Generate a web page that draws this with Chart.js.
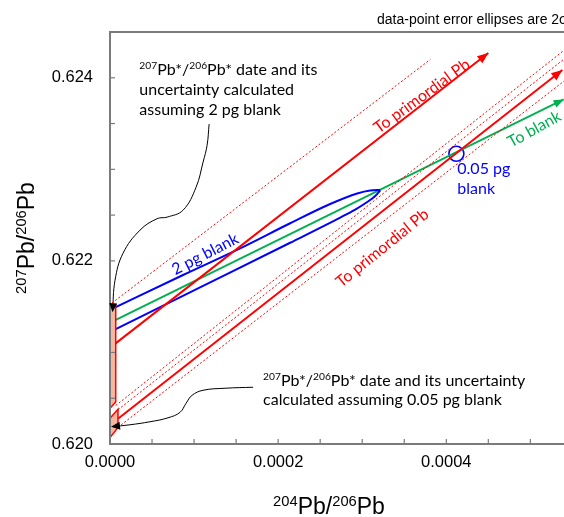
<!DOCTYPE html>
<html lang="en">
<head>
  <meta charset="UTF-8" />
  <title>207Pb/206Pb vs 204Pb/206Pb</title>
  <script src="https://cdn.jsdelivr.net/npm/chart.js"></script>
  <style>
    html, body { margin: 0; padding: 0; background: #fff; }
  </style>
</head>
<body>

<canvas id="grafico" width="564" height="517"></canvas>

<script>
  // axes
  const xMin = 0, xMax = 0.00054;
  const yMin = 0.620, yMax = 0.6245;
  const xTicks = [0, 0.00005, 0.0001, 0.00015, 0.0002, 0.00025, 0.0003, 0.00035, 0.0004, 0.00045, 0.0005];
  const xTickLabels = ['0.0000', '', '', '', '0.0002', '', '', '', '0.0004', '', ''];
  const yTicks = [0.6200, 0.6205, 0.6210, 0.6215, 0.6220, 0.6225, 0.6230, 0.6235, 0.6240, 0.6245];
  const yTickLabels = ['0.620', '', '', '', '0.622', '', '', '', '0.624', ''];

  // intercept boxes on the y axis (x, y)
  const box2pg = [[0, 0.62152], [0.0000068, 0.62152], [0.0000068, 0.62046], [0, 0.62039], [0, 0.62152]];
  const box005pg = [[0, 0.62007], [0, 0.62028], [0.0000095, 0.62038], [0.0000095, 0.62018], [0, 0.62007]];

  // lines towards primordial Pb, with their uncertainty envelopes
  const primUpper = [[0.000004, 0.62108], [0.00045, 0.62427]];
  const primUpperHi = [[0.0000024, 0.62154], [0.000381, 0.62420]];
  const primUpperLo = [[0.0000068, 0.62042], [0.00054, 0.62430]];
  const primLower = [[0.0000095, 0.620275], [0.000538, 0.624084]];
  const primLowerHi = [[0.0000095, 0.620374], [0.00054, 0.624204]];
  const primLowerLo = [[0.0000095, 0.620182], [0.00054, 0.623964]];

  // mixing line towards blank
  const toBlank = [[0.0000039, 0.621341], [0.00053964, 0.623764]];

  // 2 pg blank error envelope
  const ell2pgUpper = [[0.0000068, 0.621496], [0.0000869, 0.621846], [0.0001548, 0.622137], [0.0002143, 0.622411],
                       [0.0002619, 0.622621], [0.000294, 0.622736], [0.0003095, 0.622769], [0.0003214, 0.622774]];
  const ell2pgLower = [[0.0000008, 0.621227], [0.0001071, 0.62171], [0.0002143, 0.622198], [0.0002738, 0.622473],
                       [0.0002917, 0.622561], [0.000306, 0.622643], [0.0003155, 0.622709], [0.0003214, 0.622769]];

  // 0.05 pg blank data point
  const blank005 = [[0.000412, 0.62317]];

  // call-out arrows
  const arrow2pg = [[0.0001179, 0.623494], [0.0001155, 0.623264], [0.0001107, 0.623079], [0.0001024, 0.622805],
                    [0.0000869, 0.622554], [0.0000679, 0.622478], [0.000056, 0.622461], [0.0000357, 0.622336],
                    [0.0000155, 0.622084], [0.000006, 0.621789], [0.000003, 0.621439]];
  const arrow005 = [[0.0001702, 0.62062], [0.0001369, 0.620609], [0.0001107, 0.620587], [0.0000976, 0.620532],
                    [0.0000905, 0.620445], [0.0000833, 0.620346], [0.000069, 0.620286], [0.0000476, 0.620243],
                    [0.0000238, 0.62021], [0.0000012, 0.620188]];

  const RED = '#ff0000', BLUE = '#0000ff', GREEN = '#00b050';
  const TXT = 'Lato, "Open Sans", sans-serif';
  const AX = '"Liberation Sans", Arial, sans-serif';

  const pts = a => a.map(([x, y]) => ({ x, y }));

  function linha(data, cor, extra) {
    return Object.assign({
      data: pts(data), showLine: true, borderColor: cor, backgroundColor: cor,
      borderWidth: 2, pointRadius: 0, pointHoverRadius: 0, fill: false, tension: 0
    }, extra || {});
  }

  const datasets = [
    linha(box2pg, RED, { fill: 'shape', backgroundColor: '#f5b79f', borderWidth: 1.5, clip: false }),
    linha(box005pg, RED, { fill: 'shape', backgroundColor: '#f5b79f', borderWidth: 1.5, clip: false }),
    linha(primUpperHi, RED, { borderWidth: 1, borderDash: [2, 2] }),
    linha(primUpperLo, RED, { borderWidth: 1, borderDash: [2, 2] }),
    linha(primLowerHi, RED, { borderWidth: 1, borderDash: [2, 2] }),
    linha(primLowerLo, RED, { borderWidth: 1, borderDash: [2, 2] }),
    linha(primUpper, RED, { arrowHead: [11, 9] }),
    linha(primLower, RED, { arrowHead: [11, 9] }),
    linha(ell2pgUpper, BLUE, { cubicInterpolationMode: 'monotone' }),
    linha(ell2pgLower, BLUE, { cubicInterpolationMode: 'monotone' }),
    linha(toBlank, GREEN, { arrowHead: [10, 8] }),
    { data: pts(blank005), showLine: false, pointRadius: 7.5, pointHoverRadius: 7.5,
      pointBorderColor: BLUE, pointBackgroundColor: 'rgba(0,0,0,0)', pointBorderWidth: 1.6 },
    linha(arrow2pg, '#000000', { borderWidth: 1, tension: 0.4, arrowHead: [9, 8], clip: false }),
    linha(arrow005, '#000000', { borderWidth: 1, tension: 0.4, arrowHead: [9, 8], clip: false })
  ];

  // text placed at data coordinates
  const blocos = [
    { x: 0.0000349, y: 0.624029, size: 16, color: '#000', lh: 20,
      lines: [['^207', 'Pb*/', '^206', 'Pb* date and its'], ['uncertainty calculated'], ['assuming 2 pg blank']] },
    { x: 0.0001821, y: 0.620631, size: 16, color: '#000', lh: 19,
      lines: [['^207', 'Pb*/', '^206', 'Pb* date and its uncertainty'], ['calculated assuming 0.05 pg blank']] },
    { x: 0.0004131, y: 0.622948, size: 16, color: BLUE, lh: 20, lines: [['0.05 pg'], ['blank']] }
  ];
  const rotulos = [
    { text: 'To primordial Pb', x: 0.000371, y: 0.62380, ang: -36, color: RED },
    { text: 'To primordial Pb', x: 0.000324, y: 0.62214, ang: -39, color: RED },
    { text: '2 pg blank', x: 0.0001131, y: 0.622073, ang: -27, color: BLUE },
    { text: 'To blank', x: 0.0005048, y: 0.623439, ang: -29, color: GREEN }
  ];

  function richWidth(ctx, parts, size, fam) {
    let w = 0;
    parts.forEach(p => {
      const sup = p[0] === '^';
      const t = sup ? p.slice(1) : p;
      ctx.font = (sup ? size * 0.64 : size) + 'px ' + fam;
      w += ctx.measureText(t).width;
    });
    return w;
  }
  function drawRich(ctx, parts, x, y, size, fam) {
    let cx = x;
    parts.forEach(p => {
      const sup = p[0] === '^';
      const t = sup ? p.slice(1) : p;
      ctx.font = (sup ? size * 0.64 : size) + 'px ' + fam;
      ctx.fillText(t, cx, sup ? y - size * 0.36 : y);
      cx += ctx.measureText(t).width;
    });
  }

  const decor = {
    id: 'decor',
    afterDraw(chart) {
      const { ctx, chartArea: a } = chart;
      const sx = chart.scales.x, sy = chart.scales.y;
      ctx.save();

      // frame
      ctx.strokeStyle = '#7b7b7b';
      ctx.lineWidth = 2;
      ctx.beginPath();
      ctx.moveTo(a.right + 2, a.top);
      ctx.lineTo(a.left, a.top);
      ctx.lineTo(a.left, a.bottom);
      ctx.lineTo(a.right + 2, a.bottom);
      ctx.stroke();

      // inner tick marks
      ctx.lineWidth = 1.2;
      sx.ticks.forEach(t => {
        const px = sx.getPixelForValue(t.value);
        ctx.beginPath(); ctx.moveTo(px, a.bottom); ctx.lineTo(px, a.bottom - 5); ctx.stroke();
      });
      sy.ticks.forEach(t => {
        const py = sy.getPixelForValue(t.value);
        ctx.beginPath(); ctx.moveTo(a.left, py); ctx.lineTo(a.left + 5, py); ctx.stroke();
      });

      // arrow heads
      chart.data.datasets.forEach((ds, i) => {
        if (!ds.arrowHead) return;
        const el = chart.getDatasetMeta(i).data;
        const p1 = el[el.length - 2], p2 = el[el.length - 1];
        const ang = Math.atan2(p2.y - p1.y, p2.x - p1.x);
        const [len, w] = ds.arrowHead;
        const bx = p2.x - len * Math.cos(ang), by = p2.y - len * Math.sin(ang);
        ctx.fillStyle = ds.borderColor;
        ctx.beginPath();
        ctx.moveTo(p2.x, p2.y);
        ctx.lineTo(bx + w / 2 * Math.sin(ang), by - w / 2 * Math.cos(ang));
        ctx.lineTo(bx - w / 2 * Math.sin(ang), by + w / 2 * Math.cos(ang));
        ctx.closePath();
        ctx.fill();
      });

      // annotation blocks
      ctx.textBaseline = 'alphabetic';
      ctx.textAlign = 'left';
      blocos.forEach(b => {
        ctx.fillStyle = b.color;
        const x0 = sx.getPixelForValue(b.x), y0 = sy.getPixelForValue(b.y);
        b.lines.forEach((ln, k) => drawRich(ctx, ln, x0, y0 + k * b.lh, b.size, TXT));
      });

      // labels along the lines
      ctx.textAlign = 'center';
      ctx.textBaseline = 'middle';
      ctx.font = '16px ' + TXT;
      rotulos.forEach(r => {
        ctx.save();
        ctx.translate(sx.getPixelForValue(r.x), sy.getPixelForValue(r.y));
        ctx.rotate(r.ang * Math.PI / 180);
        ctx.fillStyle = r.color;
        ctx.fillText(r.text, 0, 0);
        ctx.restore();
      });

      // axis titles
      ctx.textAlign = 'left';
      ctx.textBaseline = 'alphabetic';
      ctx.fillStyle = '#000';
      const tx = ['^204', 'Pb/', '^206', 'Pb'];
      const wx = richWidth(ctx, tx, 23, AX);
      drawRich(ctx, tx, 329 - wx / 2, 514, 23, AX);
      const ty = ['^207', 'Pb/', '^206', 'Pb'];
      const wy = richWidth(ctx, ty, 23, AX);
      ctx.save();
      ctx.translate(34, 238);
      ctx.rotate(-Math.PI / 2);
      drawRich(ctx, ty, -wy / 2, 0, 23, AX);
      ctx.restore();

      // header
      ctx.font = '14px ' + AX;
      ctx.fillText('data-point error ellipses are 2\u03c3', 377, 24);

      ctx.restore();
    }
  };

  const semPadding = s => { s.paddingLeft = 0; s.paddingRight = 0; s.paddingTop = 0; s.paddingBottom = 0; };

  new Chart(document.getElementById('grafico'), {
    type: 'scatter',
    data: { datasets },
    options: {
      responsive: false,
      animation: false,
      devicePixelRatio: 1,
      layout: { autoPadding: false, padding: { top: 32, left: 0, right: 0, bottom: 0 } },
      plugins: { legend: { display: false }, tooltip: { enabled: false } },
      scales: {
        x: {
          type: 'linear', min: xMin, max: xMax,
          afterBuildTicks: s => { s.ticks = xTicks.map(v => ({ value: v })); },
          afterFit: s => { s.height = 73; semPadding(s); },
          grid: { display: false, drawTicks: false },
          border: { display: false },
          ticks: {
            autoSkip: false, maxRotation: 0, padding: 9, color: '#000',
            font: { family: AX, size: 16.5 },
            callback: (v, i) => xTickLabels[i]
          }
        },
        y: {
          type: 'linear', min: yMin, max: yMax,
          afterBuildTicks: s => { s.ticks = yTicks.map(v => ({ value: v })); },
          afterFit: s => { s.width = 110; semPadding(s); },
          grid: { display: false, drawTicks: false },
          border: { display: false },
          ticks: {
            autoSkip: false, padding: 17, color: '#000',
            font: { family: AX, size: 16.5 },
            callback: (v, i) => yTickLabels[i]
          }
        }
      }
    },
    plugins: [decor]
  });
</script>

</body>
</html>
